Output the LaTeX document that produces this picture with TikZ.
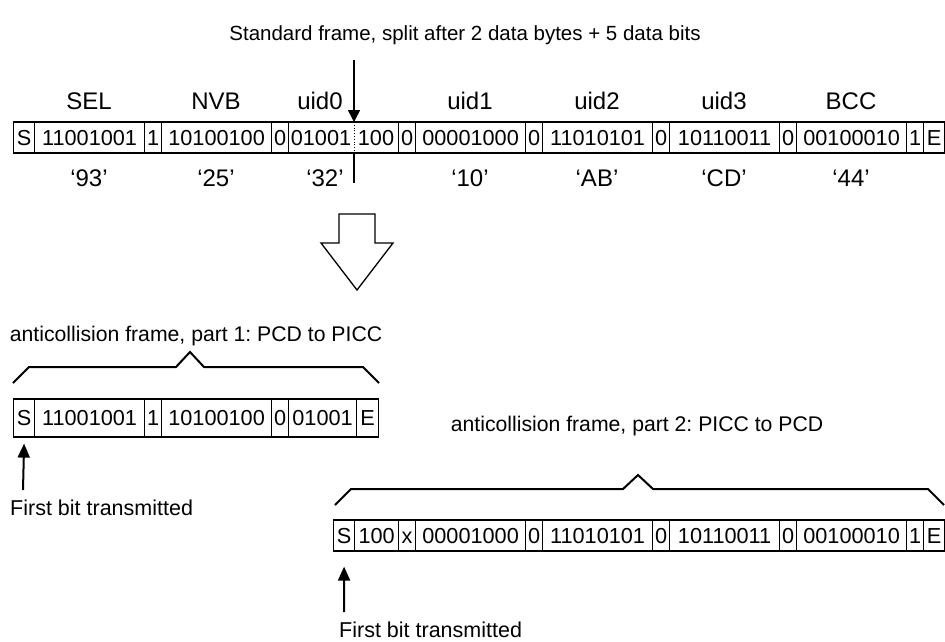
\documentclass[tikz,border=0pt]{standalone}
\usepackage{fontspec}
\setmainfont{Liberation Sans}
\usetikzlibrary{arrows.meta}
\begin{document}
\frenchspacing
\begin{tikzpicture}[x=1pt,y=-1pt,
  cell/.style={draw, line width=1.2pt, anchor=west, inner sep=0pt, minimum height=31pt,
               font=\fontsize{21.7}{23}\selectfont, text height=15.5pt, text depth=0pt},
  tallcell/.style={cell, minimum height=38pt},
  lbl/.style={anchor=base, inner sep=0pt, font=\fontsize{24}{26}\selectfont},
  ttl/.style={anchor=base, inner sep=0pt, font=\fontsize{20.5}{24}\selectfont},
  subttl/.style={anchor=base, inner sep=0pt, font=\fontsize{21.2}{24}\selectfont},
  note/.style={anchor=base west, inner sep=0pt, font=\fontsize{21.5}{24}\selectfont},
  brace/.style={line width=2pt, line join=miter},
  firstarrow/.style={line width=2pt, -{Triangle[length=14pt,width=12pt]}}
]
\useasboundingbox (0,0) rectangle (945,641);

% main title
\node[ttl] (title) at (465,40) {Standard frame, split after 2 data bytes + 5 data bits};

% top row
\foreach \x/\w/\t [count=\i] in {13/21/S, 34/110/11001001, 144/17/1, 161/110/10100100, 271/17/0,
   288/110/{}, 398/17/0, 415/110/00001000, 525/17/0, 542/110/11010101, 652/17/0,
   669/110/10110011, 779/17/0, 796/110/00100010, 906/17/1, 923/21/E}
  \node[cell, minimum width=\w pt] (t\i) at (\x,137.5) {\t};
\node[cell, draw=none, anchor=center] (ta) at (321,137.5) {01001};
\node[cell, draw=none, anchor=center] (tb) at (376,137.5) {100};

% split marker
\coordinate (s0) at (354,60);
\coordinate (s1) at (354,122);
\coordinate (s2) at (354,153);
\coordinate (s3) at (354,183);
\draw[line width=1.6pt, -{Triangle[length=12pt,width=12pt]}] (s0) -- (s1);
\draw[line width=0.8pt, dotted] (s1) -- (s2);
\draw[line width=2pt] (s2) -- (s3);

% field names
\foreach \x/\t [count=\i] in {89/SEL, 216/NVB, 320/uid0, 470/uid1, 597/uid2, 724/uid3, 851/BCC}
  \node[lbl] (n\i) at (\x,109) {\t};
% hex values
\foreach \x/\t [count=\i] in {89/93, 216/25, 325/32, 470/10, 597/AB, 724/CD, 851/44}
  \node[lbl] (h\i) at (\x,186) {‘\t’};

% big hollow arrow
\draw[line width=1.3pt, line join=miter, fill=white]
  (339,214) -- (375,214) -- (375,243) -- (393,243) -- (357,290) -- (321,243) -- (339,243) -- cycle;

% part 1
\node[subttl] (p1title) at (196,341) {anticollision frame, part 1: PCD to PICC};
\draw[brace] (13,383) -- (29,367) -- (176,367) -- (190,352) -- (204,367) -- (363,367) -- (379,383);
\foreach \x/\w/\t [count=\i] in {13/21/S, 34/110/11001001, 144/17/1, 161/110/10100100, 271/17/0,
   288/68/01001, 356/22/E}
  \node[tallcell, minimum width=\w pt] (a\i) at (\x,418) {\t};
\coordinate (fa) at (23,490);
\draw[firstarrow] (fa) -- ([yshift=-6pt]a1.south);
\node[note] (fb1) at (10,515) {First bit transmitted};

% part 2
\node[subttl] (p2title) at (637,431) {anticollision frame, part 2: PICC to PCD};
\draw[brace] (335,505) -- (351,489) -- (623,489) -- (638,475) -- (653,489) -- (928,489) -- (944,505);
\foreach \x/\w/\t [count=\i] in {333/21/S, 354/44/100, 398/17/x, 415/110/00001000, 525/17/0,
   542/110/11010101, 652/17/0, 669/110/10110011, 779/17/0, 796/110/00100010, 906/17/1, 923/21/E}
  \node[cell, minimum width=\w pt] (b\i) at (\x,535.5) {\t};
\coordinate (fc) at (344,612);
\draw[firstarrow] (fc) -- ([yshift=-15pt]b1.south);
\node[note] (fb2) at (339,637) {First bit transmitted};
\end{tikzpicture}
\end{document}
